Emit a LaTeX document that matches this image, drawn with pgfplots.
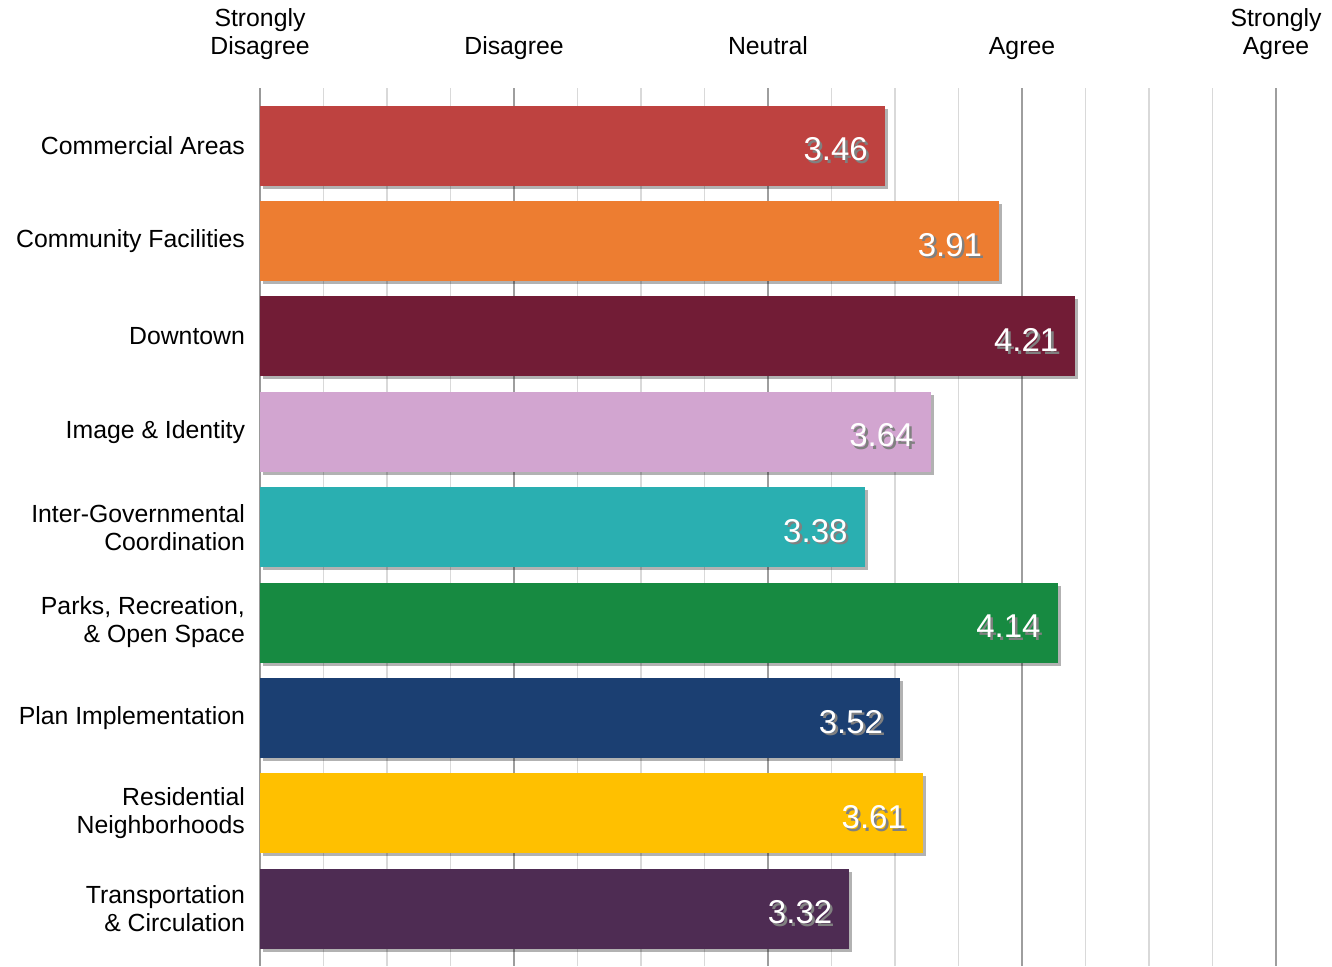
\documentclass[border=0pt]{standalone}
\usepackage{pgfplots}
\pgfplotsset{compat=1.18}
\usepackage{fontspec}
\setmainfont{Liberation Sans}
\usetikzlibrary{shadows}
\definecolor{c1}{HTML}{BE4240}
\definecolor{c2}{HTML}{ED7D31}
\definecolor{c3}{HTML}{721C36}
\definecolor{c4}{HTML}{D2A5D0}
\definecolor{c5}{HTML}{2AAFB1}
\definecolor{c6}{HTML}{178A41}
\definecolor{c7}{HTML}{1B3F72}
\definecolor{c8}{HTML}{FFC000}
\definecolor{c9}{HTML}{4E2C53}
\newcommand{\shtext}[1]{\makebox[0pt][l]{\hspace{1.3pt}\raisebox{-1.3pt}{\textcolor{black!50}{#1}}}\textcolor{white}{#1}}
\begin{document}
\begin{tikzpicture}
\begin{axis}[
  name=ax,
  x=127pt, y=47.7pt,
  y dir=reverse,
  xmin=1, xmax=5,
  ymin=-0.6, ymax=8.6,
  xbar, bar width=40pt, bar shift=0pt,
  /pgf/number format/assume math mode=true,
  axis x line*=top,
  axis y line*=left,
  x axis line style={draw=none},
  y axis line style={draw=black!40, line width=0.8pt},
  xtick={1,2,3,4,5},
  xticklabels={{Strongly\\Disagree},Disagree,Neutral,Agree,{Strongly\\Agree}},
  minor x tick num=3,
  xmajorgrids, xminorgrids,
  major grid style={draw=black!38, line width=0.8pt},
  minor grid style={draw=black!15, line width=0.8pt},
  major tick length=0pt, minor tick length=0pt,
  xticklabel style={align=center, font=\fontsize{12.4}{14}\selectfont, text depth=0.25em, yshift=11pt},
  ytick={0,...,8},
  yticklabels={Commercial Areas, Community Facilities, Downtown, Image \& Identity,
    {Inter-Governmental\\Coordination}, {Parks, Recreation,\\\& Open Space},
    Plan Implementation, {Residential\\Neighborhoods}, {Transportation\\\& Circulation}},
  yticklabel style={align=right, font=\fontsize{12.4}{14}\selectfont, xshift=-4pt},
  nodes near coords={\shtext{\pgfmathprintnumber[fixed,zerofill,precision=2,assume math mode=true]{\pgfplotspointmeta}}},
  every node near coord/.append style={anchor=east, font=\fontsize{16.5}{18}\selectfont, xshift=-5pt, yshift=-2.5pt},
  every axis plot/.append style={draw=none, drop shadow={shadow xshift=1.5pt, shadow yshift=-1.5pt, opacity=0.3, fill=black}},
]
\addplot[fill=c1] coordinates {(3.46,0)};
\addplot[fill=c2] coordinates {(3.91,1)};
\addplot[fill=c3] coordinates {(4.21,2)};
\addplot[fill=c4] coordinates {(3.64,3)};
\addplot[fill=c5] coordinates {(3.38,4)};
\addplot[fill=c6] coordinates {(4.14,5)};
\addplot[fill=c7] coordinates {(3.52,6)};
\addplot[fill=c8] coordinates {(3.61,7)};
\addplot[fill=c9] coordinates {(3.32,8)};
\end{axis}
\pgfresetboundingbox
\path[use as bounding box] ([xshift=-130pt,yshift=-0.5pt]ax.south west) rectangle ([xshift=536pt,yshift=483pt]ax.south west);
\end{tikzpicture}
\end{document}
